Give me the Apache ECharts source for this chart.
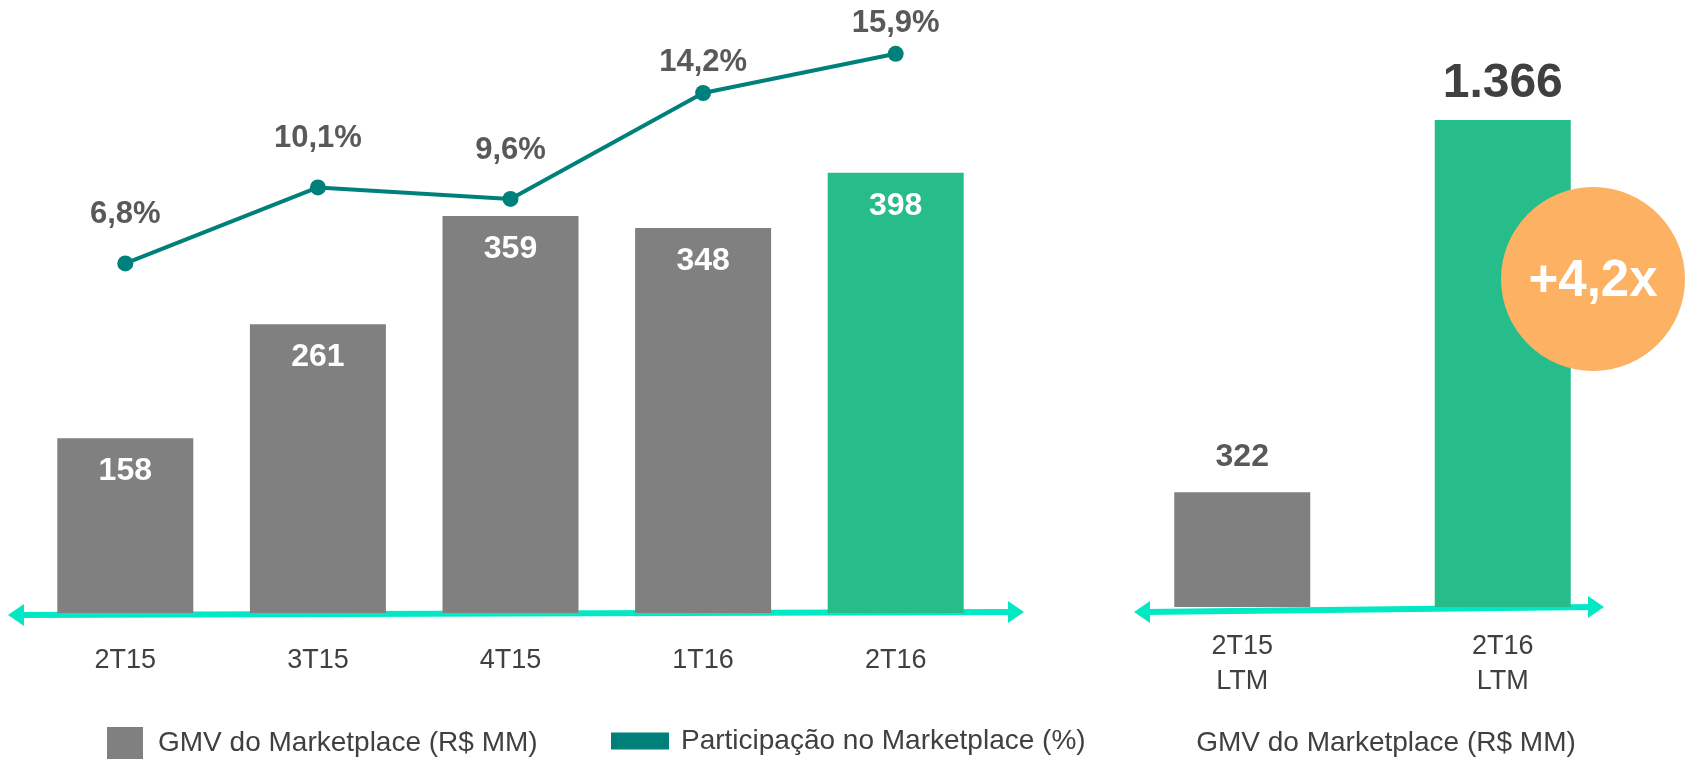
<!DOCTYPE html>
<html lang="pt-BR">
<head>
    <meta charset="UTF-8">
    <title>GMV do Marketplace</title>
    <script src="https://cdn.jsdelivr.net/npm/echarts@6/dist/echarts.min.js"></script>
    <style>
        html, body { margin: 0; padding: 0; background: #fff; }
        #main { width: 1685px; height: 760px; }
    </style>
</head>
<body>
    <div id="main"></div>
    <script>
        // quarterly data
        var quarters = ['2T15', '3T15', '4T15', '1T16', '2T16'];
        var gmv = [158, 261, 359, 348, 398];
        var share = [6.8, 10.1, 9.6, 14.2, 15.9];

        // LTM data
        var ltmLabels = ['2T15\nLTM', '2T16\nLTM'];
        var ltmGmv = [322, 1366];

        var gray = '#808080';
        var green = '#26bd8b';
        var teal = '#00807a';
        var cyan = '#00e8c4';
        var font = "'Liberation Sans', Arial, sans-serif";

        function pct(v) { return v.toFixed(1).replace('.', ',') + '%'; }
        function thousands(v) { return String(v).replace(/\B(?=(\d{3})+(?!\d))/g, '.'); }

        // arrowed axis line drawn as graphic
        function arrowLine(x1, y1, x2, y2) {
            return {
                type: 'group', z: 50, children: [
                    { type: 'line', shape: { x1: x1 + 10, y1: y1, x2: x2 - 10, y2: y2 },
                      style: { stroke: cyan, lineWidth: 6 } },
                    { type: 'polygon', shape: { points: [[x1, y1], [x1 + 16, y1 - 11], [x1 + 16, y1 + 11]] },
                      style: { fill: cyan } },
                    { type: 'polygon', shape: { points: [[x2, y2], [x2 - 16, y2 - 11], [x2 - 16, y2 + 11]] },
                      style: { fill: cyan } }
                ]
            };
        }

        var chart = echarts.init(document.getElementById('main'));

        var option = {
            backgroundColor: '#ffffff',
            animation: false,
            textStyle: { fontFamily: font },
            legend: [
                {
                    left: 102, top: 722,
                    itemWidth: 36, itemHeight: 32,
                    data: [{ name: 'GMV do Marketplace (R$ MM)', icon: 'rect', itemStyle: { color: gray } }],
                    textStyle: { fontSize: 28, color: '#404040', fontFamily: font, padding: [0, 0, 0, 10] }
                },
                {
                    left: 606, top: 722,
                    itemWidth: 58, itemHeight: 17,
                    data: [{ name: 'Participação no Marketplace (%)', icon: 'rect', itemStyle: { color: teal } }],
                    textStyle: { fontSize: 28, color: '#404040', fontFamily: font, padding: [0, 0, 0, 7] }
                }
            ],
            grid: [
                { left: 29, right: 693, top: 40, bottom: 147 },
                { left: 1112, right: 52, top: 120, bottom: 153 }
            ],
            xAxis: [
                {
                    type: 'category', gridIndex: 0, data: quarters,
                    axisLine: { show: false }, axisTick: { show: false },
                    axisLabel: { fontSize: 27, color: '#404040', margin: 34, fontFamily: font }
                },
                {
                    type: 'category', gridIndex: 1, data: ltmLabels,
                    axisLine: { show: false }, axisTick: { show: false },
                    axisLabel: { fontSize: 27, color: '#404040', margin: 22, lineHeight: 35, fontFamily: font }
                }
            ],
            yAxis: [
                { type: 'value', gridIndex: 0, min: 0, max: 518, show: false },
                { type: 'value', gridIndex: 0, min: -8.38, max: 16.5, show: false },
                { type: 'value', gridIndex: 1, min: 0, max: 1366, show: false }
            ],
            series: [
                {
                    name: 'GMV do Marketplace (R$ MM)',
                    type: 'bar', xAxisIndex: 0, yAxisIndex: 0,
                    barWidth: 136,
                    data: gmv.map(function (v, i) {
                        return { value: v, itemStyle: { color: i === gmv.length - 1 ? green : gray } };
                    }),
                    itemStyle: { color: gray },
                    label: {
                        show: true, position: 'insideTop', distance: 17,
                        color: '#ffffff', fontSize: 32, fontWeight: 'bold', fontFamily: font
                    }
                },
                {
                    name: 'Participação no Marketplace (%)',
                    type: 'line', xAxisIndex: 0, yAxisIndex: 1,
                    data: share.map(function (v, i) {
                        return { value: v, label: { distance: i < 3 ? 25 : 7 } };
                    }),
                    symbol: 'circle', symbolSize: 16,
                    lineStyle: { color: teal, width: 4 },
                    itemStyle: { color: teal },
                    label: {
                        show: true, position: 'top',
                        color: '#595959', fontSize: 31, fontWeight: 'bold', fontFamily: font,
                        formatter: function (p) { return pct(p.value); }
                    },
                    z: 5
                },
                {
                    name: 'LTM',
                    type: 'bar', xAxisIndex: 1, yAxisIndex: 2,
                    barWidth: 136,
                    data: ltmGmv.map(function (v, i) {
                        return {
                            value: v,
                            itemStyle: { color: i === 0 ? gray : green },
                            label: i === 0 ? { fontSize: 32, distance: 19, color: '#595959' } : { fontSize: 48, distance: 12 }
                        };
                    }),
                    label: {
                        show: true, position: 'top',
                        color: '#404040', fontWeight: 'bold', fontFamily: font,
                        formatter: function (p) { return thousands(p.value); }
                    }
                }
            ],
            graphic: [
                arrowLine(8, 615, 1024, 612),
                arrowLine(1134, 612, 1604, 607),
                {
                    type: 'circle', z: 60,
                    shape: { cx: 1593, cy: 279, r: 92 },
                    style: { fill: '#fdb163' }
                },
                {
                    type: 'text', z: 61,
                    style: {
                        text: '+4,2x', x: 1593, y: 282, align: 'center', verticalAlign: 'middle',
                        fill: '#ffffff', font: 'bold 51px ' + font
                    }
                },
                {
                    type: 'text', z: 61,
                    style: {
                        text: 'GMV do Marketplace (R$ MM)', x: 1386, y: 743,
                        align: 'center', verticalAlign: 'middle',
                        fill: '#404040', font: '28px ' + font
                    }
                }
            ]
        };

        chart.setOption(option);
    </script>
</body>
</html>
